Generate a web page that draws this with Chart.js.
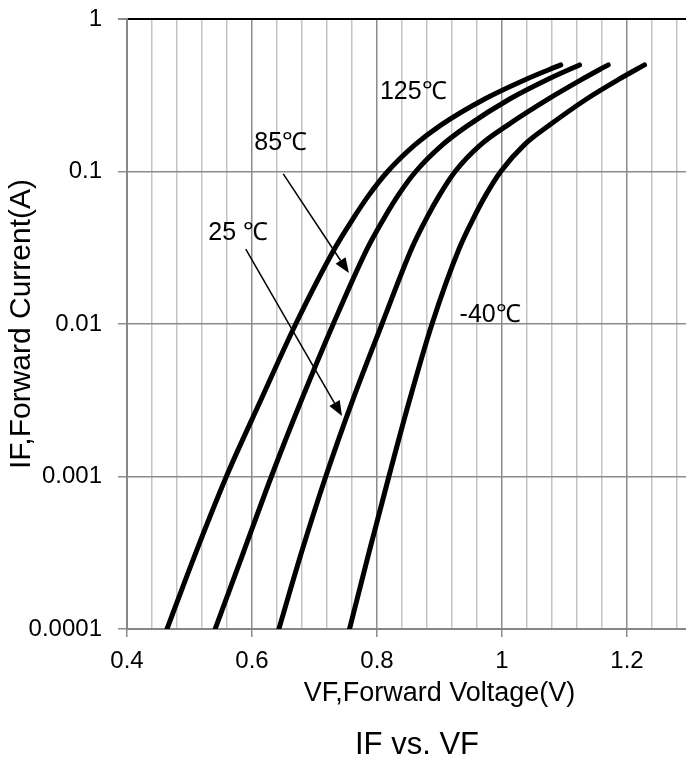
<!DOCTYPE html>
<html>
<head>
<meta charset="utf-8">
<script src="https://cdn.jsdelivr.net/npm/chart.js@4/dist/chart.umd.min.js"></script>
<style>
html, body { margin: 0; padding: 0; background: #fff; overflow: hidden; }
#wrap { width: 834px; height: 761px; }
</style>
</head>
<body>
<div id="wrap"><canvas id="ivChart"></canvas></div>
<script>
// forward current steps (A) shared by all curves
var ifSteps = [0.0001, 0.000316, 0.001, 0.00316, 0.01, 0.0316, 0.05, 0.07, 0.1, 0.15, 0.2, 0.3, 0.4, 0.5];

// forward voltage (V) at those currents, one array per temperature
var vf125 = [0.464, 0.510, 0.559, 0.614, 0.670, 0.733, 0.763, 0.787, 0.817, 0.861, 0.901, 0.973, 1.037, 1.094];
var vf85  = [0.541, 0.586, 0.631, 0.679, 0.730, 0.785, 0.812, 0.834, 0.862, 0.905, 0.945, 1.013, 1.072, 1.124];
var vf25  = [0.643, 0.679, 0.718, 0.761, 0.808, 0.856, 0.880, 0.900, 0.925, 0.966, 1.008, 1.075, 1.127, 1.170];
var vfM40 = [0.756, 0.787, 0.819, 0.852, 0.888, 0.932, 0.955, 0.974, 0.998, 1.036, 1.075, 1.136, 1.186, 1.228];

var xLabels = [0.4, 0.6, 0.8, 1.0, 1.2];
var yTicks = [0.0001, 0.001, 0.01, 0.1, 1];

// temperature labels and arrows, in data coordinates (V, A)
var tempLabels = [
    {text: "125\u2103", v: 0.858, i: 0.332},
    {text: "85\u2103", v: 0.646, i: 0.154},
    {text: "25 \u2103", v: 0.578, i: 0.0395},
    {text: "-40\u2103", v: 0.981, i: 0.01145}
];
var arrows = [
    {v1: 0.650, i1: 0.0964, v2: 0.755, i2: 0.0216},
    {v1: 0.590, i1: 0.031, v2: 0.744, i2: 0.00249}
];

function pairs(vs) {
    return vs.map(function (v, k) { return {x: v, y: ifSteps[k]}; });
}

function isMajor(v) {
    return xLabels.some(function (m) { return Math.abs(m - v) < 1e-6; });
}

var xGrid = [];
for (var k = 0; k <= 25; k++) xGrid.push(Math.round((0.4 + k * 0.04) * 100) / 100);

var FONT = "'Liberation Sans', Arial, sans-serif";
Chart.defaults.color = "#000";
Chart.defaults.font.family = FONT;

function curve(vs) {
    return {
        data: pairs(vs),
        borderColor: "#000",
        borderWidth: 5,
        borderCapStyle: "round",
        borderJoinStyle: "round",
        pointRadius: 0,
        cubicInterpolationMode: "monotone",
        fill: false
    };
}

// chart title is centred on the whole chart, not only on the plot width
var titleSpan = {
    id: "titleSpan",
    afterLayout: function (chart) {
        var t = chart.titleBlock;
        if (t) { t.left = 0; t.right = chart.width; t.width = chart.width; }
    }
};

var notes = {
    id: "notes",
    afterDatasetsDraw: function (chart) {
        var ctx = chart.ctx, xs = chart.scales.x, ys = chart.scales.y;
        ctx.save();
        ctx.fillStyle = "#000";
        ctx.strokeStyle = "#000";
        ctx.font = "25px " + FONT;
        ctx.textAlign = "center";
        ctx.textBaseline = "middle";
        tempLabels.forEach(function (t) {
            ctx.fillText(t.text, xs.getPixelForValue(t.v), ys.getPixelForValue(t.i));
        });
        ctx.lineWidth = 1.5;
        arrows.forEach(function (a) {
            var x1 = xs.getPixelForValue(a.v1), y1 = ys.getPixelForValue(a.i1);
            var x2 = xs.getPixelForValue(a.v2), y2 = ys.getPixelForValue(a.i2);
            var ang = Math.atan2(y2 - y1, x2 - x1);
            var len = 15, half = 6;
            var bx = x2 - len * Math.cos(ang), by = y2 - len * Math.sin(ang);
            ctx.beginPath();
            ctx.moveTo(x1, y1);
            ctx.lineTo(bx, by);
            ctx.stroke();
            ctx.beginPath();
            ctx.moveTo(x2, y2);
            ctx.lineTo(bx + half * Math.sin(ang), by - half * Math.cos(ang));
            ctx.lineTo(bx - half * Math.sin(ang), by + half * Math.cos(ang));
            ctx.closePath();
            ctx.fill();
        });
        ctx.restore();
    }
};

var ctx = document.getElementById("ivChart");
var ivChart = new Chart(ctx, {
    type: "line",
    data: {
        datasets: [curve(vf125), curve(vf85), curve(vf25), curve(vfM40)]
    },
    options: {
        responsive: true,
        maintainAspectRatio: false,
        animation: false,
        layout: {padding: {top: 19, right: 82, bottom: 0, left: 0}},
        plugins: {
            legend: {display: false},
            tooltip: {enabled: false},
            title: {
                display: true,
                text: "IF vs. VF",
                position: "bottom",
                font: {size: 31, weight: "normal", lineHeight: 1},
                padding: {top: 0, bottom: 0}
            }
        },
        scales: {
            x: {
                type: "linear",
                min: 0.4,
                max: 1.4,
                afterBuildTicks: function (s) {
                    s.ticks = xGrid.map(function (v) { return {value: v}; });
                },
                afterFit: function (s) {
                    s.height = 101;
                    s.paddingLeft = 0;
                    s.paddingRight = 0;
                },
                ticks: {
                    autoSkip: false,
                    maxRotation: 0,
                    padding: 10,
                    font: {size: 24},
                    callback: function (v) { return isMajor(v) ? String(v) : ""; }
                },
                grid: {
                    tickLength: 8,
                    lineWidth: 1.5,
                    color: function (c) { return c.tick && isMajor(c.tick.value) ? "#8c8c8c" : "#c4c4c4"; },
                    tickColor: function (c) { return c.tick && isMajor(c.tick.value) ? "#8c8c8c" : "rgba(0,0,0,0)"; }
                },
                border: {color: "#868686", width: 2},
                title: {
                    display: true,
                    text: "VF,Forward Voltage(V)",
                    font: {size: 27},
                    padding: {top: 4, bottom: 20}
                }
            },
            y: {
                type: "logarithmic",
                min: 0.0001,
                max: 1,
                afterBuildTicks: function (s) {
                    s.ticks = yTicks.map(function (v) { return {value: v}; });
                },
                afterFit: function (s) {
                    s.width = 127;
                    s.paddingTop = 0;
                    s.paddingBottom = 0;
                },
                ticks: {
                    padding: 16,
                    font: {size: 24},
                    callback: function (v) { return String(v); }
                },
                grid: {
                    tickLength: 9,
                    lineWidth: function (c) { return c.tick && c.tick.value === 1 ? 2 : 1.5; },
                    color: function (c) { return c.tick && c.tick.value === 1 ? "#000" : "#8c8c8c"; },
                    tickColor: "#8c8c8c"
                },
                border: {color: "#868686", width: 2},
                title: {
                    display: true,
                    text: "IF,Forward Current(A)",
                    font: {size: 30},
                    padding: {top: 4, bottom: 0}
                }
            }
        }
    },
    plugins: [notes, titleSpan]
});
</script>
</body>
</html>
